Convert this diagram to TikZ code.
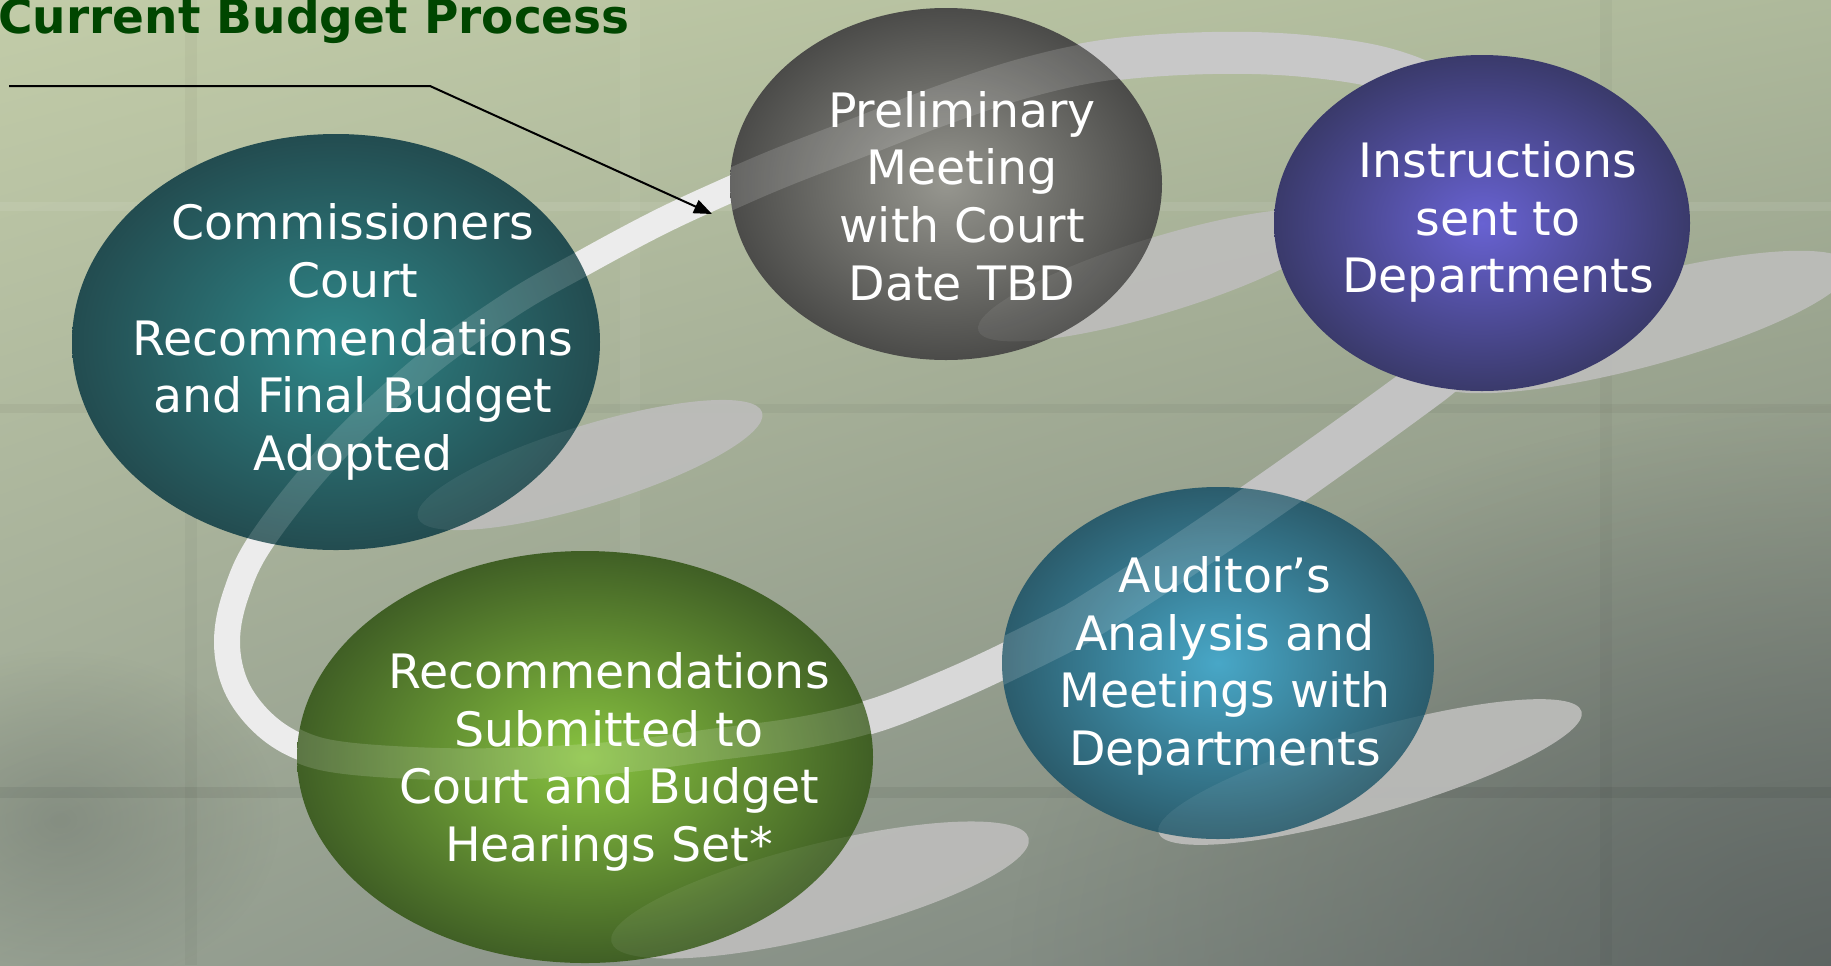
\documentclass[tikz,border=0pt]{standalone}
\usepackage{fontspec}
\setmainfont{DejaVu Sans}
\usetikzlibrary{shapes.geometric,arrows.meta,fadings,shadings}

% background
\definecolor{bgUL}{HTML}{C2CCA8}
\definecolor{bgUR}{HTML}{AEB99B}
\definecolor{bgLL}{HTML}{98A293}
\definecolor{bgLR}{HTML}{747C78}
\definecolor{bgdark}{HTML}{565D5B}
\definecolor{titlegreen}{HTML}{004600}
% ribbon and its grey discs
\definecolor{ribA}{HTML}{ECECEC}
\definecolor{ribB}{HTML}{C8C8C8}
\definecolor{ribC}{HTML}{C3C3C3}
\definecolor{ribD}{HTML}{D8D8D8}
\definecolor{shadowgrey}{HTML}{BDBDBB}
% bubble colours
\definecolor{commIn}{HTML}{2F8789}
\definecolor{commOut}{HTML}{234C50}
\definecolor{prelIn}{HTML}{96968F}
\definecolor{prelOut}{HTML}{4B4B49}
\definecolor{instIn}{HTML}{6862D2}
\definecolor{instOut}{HTML}{3A3A6B}
\definecolor{audIn}{HTML}{48A7C7}
\definecolor{audOut}{HTML}{2B5C6C}
\definecolor{recIn}{HTML}{88C340}
\definecolor{recOut}{HTML}{405F25}

\pgfdeclareradialshading{commglow}{\pgfpoint{0bp}{0bp}}{color(0bp)=(commIn); color(25bp)=(commOut); color(50bp)=(commOut)}
\pgfdeclareradialshading{prelglow}{\pgfpoint{0bp}{0bp}}{color(0bp)=(prelIn); color(25bp)=(prelOut); color(50bp)=(prelOut)}
\pgfdeclareradialshading{instglow}{\pgfpoint{0bp}{0bp}}{color(0bp)=(instIn); color(25bp)=(instOut); color(50bp)=(instOut)}
\pgfdeclareradialshading{audglow}{\pgfpoint{0bp}{0bp}}{color(0bp)=(audIn); color(25bp)=(audOut); color(50bp)=(audOut)}
\pgfdeclareradialshading{recglow}{\pgfpoint{0bp}{0bp}}{color(0bp)=(recIn); color(25bp)=(recOut); color(50bp)=(recOut)}

\tikzfading[name=softspot, inner color=transparent!25, outer color=transparent!100]

% flat grey discs lying under each bubble
\newcommand\haloes[1]{%
  \fill[halo, #1, rotate around={17:(590,465)}] (590,465) ellipse [x radius=180, y radius=40];
  \fill[halo, #1, rotate around={17:(1160,275)}] (1160,275) ellipse [x radius=190, y radius=38];
  \fill[halo, #1, rotate around={15:(1640,322)}] (1640,322) ellipse [x radius=218, y radius=45];
  \fill[halo, #1, rotate around={16:(1370,772)}] (1370,772) ellipse [x radius=220, y radius=42];
  \fill[halo, #1, rotate around={14:(820,890)}] (820,890) ellipse [x radius=215, y radius=46];
}

\begin{document}
\begin{tikzpicture}[x=0.5pt, y=-0.5pt,
  bubble/.style={ellipse, inner sep=0pt, draw=none, shade},
  caption/.style={text=white, align=center, inner sep=0pt,
    font=\fontsize{23.7pt}{28.8pt}\selectfont},
  ribbon/.style={line cap=butt, line join=round},
  halo/.style={fill=shadowgrey, opacity=0.92},
  sheen/.style={ribbon, draw=white, draw opacity=0.15},
  haze/.style={fill=white, fill opacity=0.07},
  pointer/.style={line width=1pt, draw=black, -{Triangle[length=9pt, width=7pt]}},
]
\useasboundingbox (0,0) rectangle (1831,965);
\clip (0,0) rectangle (1831,965);

% textured backdrop
\shade[upper left=bgUL, upper right=bgUR, lower left=bgLL, lower right=bgLR] (0,0) rectangle (1831,965);
\fill[bgdark, path fading=softspot] (1831,965) ellipse [x radius=820, y radius=560];
\fill[bgdark, opacity=0.45, path fading=softspot] (60,820) ellipse [x radius=220, y radius=170];
\fill[white, opacity=0.08] (0,202) rectangle (1831,211);
\fill[black, opacity=0.04] (0,404) rectangle (1831,413);
\fill[black, opacity=0.06] (0,787) rectangle (1831,798);
\fill[black, opacity=0.03] (185,0) rectangle (197,965);
\fill[white, opacity=0.05] (620,0) rectangle (640,965);
\fill[black, opacity=0.03] (1600,0) rectangle (1612,965);

% discs behind the bubbles
\haloes{}

% the swooping ribbon that links the steps
\draw[ribbon, line width=13pt, draw=ribA] plot[smooth, tension=0.6] coordinates
  {(345,758) (298,746) (262,722) (236,686) (227,642) (236,594) (262,540) (330,455) (420,370) (510,305) (585,262) (660,222) (729,190) (785,166)};
\draw[ribbon, line width=21pt, draw=ribB] plot[smooth, tension=0.6] coordinates
  {(785,166) (860,137) (940,106) (1025,78) (1110,60) (1212,53) (1305,56) (1390,70) (1455,100) (1510,150)};
\draw[ribbon, line width=24pt, draw=ribC] (1510,150) .. controls (1560,230) and (1500,330) .. (1425,385)
  .. controls (1330,455) and (1190,555) .. (1075,625);
\draw[ribbon, line width=17pt, draw=ribD] plot[smooth, tension=0.6] coordinates
  {(1075,625) (1002,662) (940,690) (873,716) (800,733) (711,745) (620,757) (530,763) (440,764) (345,758)};

% the five steps
\node[bubble, shading=commglow, minimum width=264pt, minimum height=208pt] (comm) at (336,342) {};
\node[bubble, shading=prelglow, minimum width=216pt, minimum height=176pt] (prel) at (946,184) {};
\node[bubble, shading=instglow, minimum width=208pt, minimum height=168pt] (inst) at (1482,223) {};
\node[bubble, shading=audglow,  minimum width=216pt, minimum height=176pt] (aud)  at (1218,663) {};
\node[bubble, shading=recglow,  minimum width=288pt, minimum height=206pt] (rec)  at (585,757) {};

% ribbon and discs showing faintly through the bubbles
\begin{scope}
  \clip (comm.center) ellipse [x radius=264, y radius=208];
  \draw[sheen, line width=13pt] plot[smooth, tension=0.6] coordinates
    {(236,594) (262,540) (330,455) (420,370) (510,305) (585,262) (660,222)};
  \haloes{haze}
\end{scope}
\begin{scope}
  \clip (prel.center) ellipse [x radius=216, y radius=176];
  \draw[sheen, line width=20pt] plot[smooth, tension=0.6] coordinates
    {(660,222) (729,190) (785,166) (860,137) (940,106) (1025,78) (1110,60) (1212,53)};
  \haloes{haze}
\end{scope}
\begin{scope}
  \clip (aud.center) ellipse [x radius=216, y radius=176];
  \draw[sheen, line width=22pt] (1425,385) .. controls (1330,455) and (1190,555) .. (1075,625)
    .. controls (1030,648) and (985,670) .. (940,690);
  \haloes{haze}
\end{scope}
\begin{scope}
  \clip (rec.center) ellipse [x radius=288, y radius=206];
  \draw[sheen, line width=16pt] plot[smooth, tension=0.6] coordinates
    {(940,690) (873,716) (800,733) (711,745) (620,757) (530,763) (440,764) (345,758) (298,746) (262,722)};
  \haloes{haze}
\end{scope}

% step captions
\node[caption] (comm-text) at (353,342) {Commissioners\\Court\\Recommendations\\and Final Budget\\Adopted};
\node[caption] (prel-text) at (962,196) {Preliminary\\Meeting\\with Court\\Date TBD};
\node[caption] (inst-text) at (1498,222) {Instructions\\sent to\\Departments};
\node[caption] (aud-text)  at (1225,666) {Auditor’s\\Analysis and\\Meetings with\\Departments};
\node[caption] (rec-text)  at (609,762) {Recommendations\\Submitted to\\Court and Budget\\Hearings Set*};

% start pointer
\coordinate (arrow-start) at (9,86);
\coordinate (arrow-bend) at (430,86);
\coordinate (arrow-tip) at (712,214);
\draw[pointer] (arrow-start) -- (arrow-bend) -- (arrow-tip);

% heading
\node[anchor=base west, inner sep=0pt, text=titlegreen,
  font=\bfseries\fontsize{23.5pt}{28pt}\selectfont] (title) at (-2,33) {Current Budget Process};
\end{tikzpicture}
\end{document}
